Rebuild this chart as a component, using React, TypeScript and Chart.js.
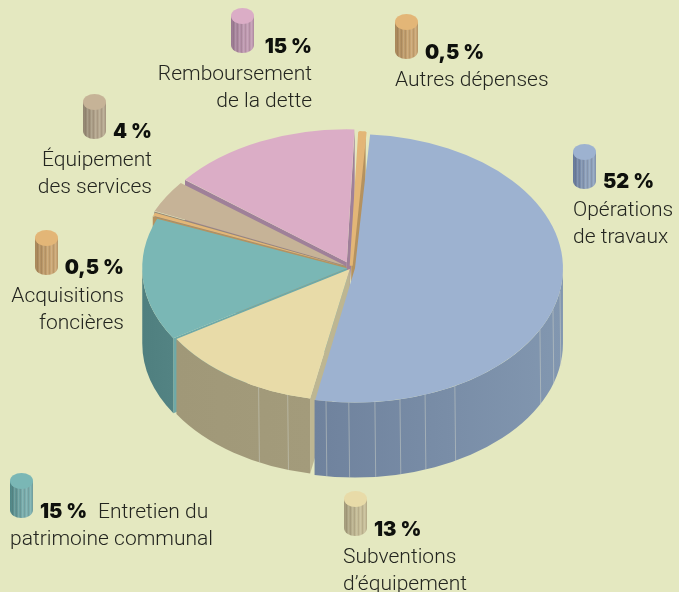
import React, { useEffect, useRef } from "react";
import { Chart, registerables } from "chart.js";

Chart.register(...registerables);

// ---- data -----
const categories = [
  "Opérations de travaux",
  "Subventions d’équipement",
  "Entretien du patrimoine communal",
  "Acquisitions foncières",
  "Équipement des services",
  "Remboursement de la dette",
  "Autres dépenses",
];
const shares = [52, 13, 15, 0.5, 4, 15, 0.5];
const shareLabels = ["52 %", "13 %", "15 %", "0,5 %", "4 %", "15 %", "0,5 %"];
const captionLines = [
  ["Opérations", "de travaux"],
  ["Subventions", "d’équipement"],
  ["Entretien du", "patrimoine communal"],
  ["Acquisitions", "foncières"],
  ["Équipement", "des services"],
  ["Remboursement", "de la dette"],
  ["Autres dépenses"],
];

// ---- styles -----
const BG = "#e4e8c0";
const topColors = ["#9db2d0", "#e8dba8", "#7ab7b5", "#e3b677", "#c6b397", "#dbadc6", "#e3b677"];
const cutColors = ["#7b90ab", "#bdb692", "#6ea9a8", "#b5925f", "#948a78", "#9f8099", "#b5925f"];
const wallLeft = ["#6f829d", "#a09878", "#4f7f7f", "#b5925f", "#948a78", "#9f8099", "#b5925f"];
const wallRight = ["#8297b0", "#a39b7b", "#538383", "#b5925f", "#948a78", "#9f8099", "#b5925f"];
const iconDark = ["#66799a", "#a39b7b", "#4f8585", "#a8875a", "#928672", "#9a7a92", "#a8875a"];
const iconLight = ["#8fa2bd", "#c6bd98", "#7aaeae", "#c9a573", "#b5a78f", "#c09ab2", "#c9a573"];
const offsets = [16, 8, 16, 20, 26, 40, 14];
const sliceBorders = [0, 0, 0, 0, 0, 0, 3];
const rotationDeg = 4;
const baseRadius = 204;
const squash = 0.645;
const depth = 75;
const seams: number[][] = [[9.7, 17.8, 27.2, 61.3, 70.3, 77.5, 84.5, 91.7, 98], [107.7, 116.5], [], [], [], [], []];

type Place = { icon: [number, number]; shareAt: [number, number]; align: CanvasTextAlign; lines: [number, number][] };
const places: Place[] = [
  { icon: [573, 144], shareAt: [603, 188], align: "left", lines: [[573, 216], [573, 243]] },
  { icon: [344, 491], shareAt: [374, 536], align: "left", lines: [[343, 563], [343, 590]] },
  { icon: [10, 473], shareAt: [40, 518], align: "left", lines: [[98, 518], [10, 545]] },
  { icon: [35, 230], shareAt: [124, 274], align: "right", lines: [[124, 302], [124, 329]] },
  { icon: [83, 94], shareAt: [152, 138], align: "right", lines: [[152, 166], [152, 193]] },
  { icon: [231, 8], shareAt: [312, 53], align: "right", lines: [[312, 80], [312, 107]] },
  { icon: [395, 14], shareAt: [425, 59], align: "left", lines: [[395, 86]] },
];

function geometry(arc: any, off: number) {
  const p = arc.getProps(["x", "y", "startAngle", "endAngle", "outerRadius", "circumference"], true);
  const d = off / 4;
  const mid = (p.startAngle + p.endAngle) / 2;
  const fix = 1 - Math.sin(Math.min(Math.PI, p.circumference));
  const R = p.outerRadius + d * fix;
  const cx = p.x + Math.cos(mid) * d;
  const cy = p.y + Math.sin(mid) * d * squash;
  return { cx, cy, R, s: p.startAngle, e: p.endAngle };
}

function drawCut(ctx: CanvasRenderingContext2D, g: any, a: number, color: string) {
  const ex = g.cx + g.R * Math.cos(a);
  const ey = g.cy + g.R * squash * Math.sin(a);
  ctx.beginPath();
  ctx.moveTo(g.cx, g.cy);
  ctx.lineTo(ex, ey);
  ctx.lineTo(ex, ey + depth);
  ctx.lineTo(g.cx, g.cy + depth);
  ctx.closePath();
  ctx.fillStyle = color;
  ctx.fill();
}

function drawRim(ctx: CanvasRenderingContext2D, g: any, i: number) {
  const a = Math.max(g.s, 0);
  const b = Math.min(g.e, Math.PI);
  if (b <= a) return;
  const ry = g.R * squash;
  const x1 = g.cx + g.R * Math.cos(b);
  const x2 = g.cx + g.R * Math.cos(a);
  const grad = ctx.createLinearGradient(x1, 0, x2, 0);
  grad.addColorStop(0, wallLeft[i]);
  grad.addColorStop(1, wallRight[i]);
  ctx.beginPath();
  ctx.ellipse(g.cx, g.cy, g.R, ry, 0, a, b, false);
  ctx.lineTo(x1, g.cy + ry * Math.sin(b) + depth);
  ctx.ellipse(g.cx, g.cy + depth, g.R, ry, 0, b, a, true);
  ctx.closePath();
  ctx.fillStyle = grad;
  ctx.fill();
  ctx.strokeStyle = "rgba(205,210,200,0.5)";
  ctx.lineWidth = 1;
  for (const deg of seams[i]) {
    const t = (deg * Math.PI) / 180;
    const x = g.cx + g.R * Math.cos(t);
    const y = g.cy + ry * Math.sin(t);
    ctx.beginPath();
    ctx.moveTo(x, y);
    ctx.lineTo(x + 0.8, y + depth);
    ctx.stroke();
  }
}

function drawIcon(ctx: CanvasRenderingContext2D, x: number, y: number, i: number) {
  const w = 23, h = 45, ry = 8;
  const rx = w / 2;
  ctx.save();
  ctx.beginPath();
  ctx.moveTo(x, y + ry);
  ctx.lineTo(x, y + h - ry);
  ctx.ellipse(x + rx, y + h - ry, rx, ry, 0, Math.PI, 0, true);
  ctx.lineTo(x + w, y + ry);
  ctx.closePath();
  const grad = ctx.createLinearGradient(x, 0, x + w, 0);
  grad.addColorStop(0, iconDark[i]);
  grad.addColorStop(0.6, iconLight[i]);
  grad.addColorStop(1, iconLight[i]);
  ctx.fillStyle = grad;
  ctx.fill();
  ctx.clip();
  ctx.lineWidth = 1;
  for (let k = 2; k < w; k += 2) {
    ctx.strokeStyle = k % 4 === 0 ? "rgba(255,255,240,0.13)" : "rgba(70,60,50,0.12)";
    ctx.beginPath();
    ctx.moveTo(x + k + 0.5, y);
    ctx.lineTo(x + k + 0.5, y + h);
    ctx.stroke();
  }
  ctx.restore();
  ctx.beginPath();
  ctx.ellipse(x + rx, y + ry, rx, ry, 0, 0, Math.PI * 2);
  ctx.fillStyle = topColors[i];
  ctx.fill();
}

const pie3d = {
  id: "pie3d",
  beforeDatasetsDraw(chart: any) {
    const { ctx } = chart;
    const arcs = chart.getDatasetMeta(0).data;
    const geos = arcs.map((a: any, i: number) => geometry(a, offsets[i]));
    ctx.save();
    // cut faces from the back slices to the front ones, rims afterwards
    for (let i = geos.length - 1; i >= 0; i--) {
      const g = geos[i];
      if (Math.cos(g.s) < 0) drawCut(ctx, g, g.s, cutColors[i]);
      if (Math.cos(g.e) > 0) drawCut(ctx, g, g.e, cutColors[i]);
    }
    geos.forEach((g: any, i: number) => drawRim(ctx, g, i));
    ctx.restore();
    // squash the library's own arcs into the top face
    const cy = arcs[0].y;
    ctx.save();
    ctx.translate(0, cy);
    ctx.scale(1, squash);
    ctx.translate(0, -cy);
  },
  afterDatasetsDraw(chart: any) {
    const { ctx } = chart;
    ctx.restore();
    ctx.save();
    ctx.textBaseline = "alphabetic";
    places.forEach((pl, i) => {
      drawIcon(ctx, pl.icon[0], pl.icon[1], i);
      ctx.fillStyle = "#0e100c";
      ctx.font = "900 20px Inter";
      ctx.textAlign = pl.align;
      ctx.fillText(shareLabels[i], pl.shareAt[0], pl.shareAt[1]);
      ctx.fillStyle = "#23251f";
      ctx.font = "300 21px Roboto";
      captionLines[i].forEach((line, j) => {
        ctx.fillText(line, pl.lines[j][0], pl.lines[j][1]);
      });
    });
    ctx.restore();
  },
};

export default function App() {
  const ref = useRef<HTMLCanvasElement>(null);
  useEffect(() => {
    const chart = new Chart(ref.current as HTMLCanvasElement, {
      type: "pie",
      data: {
        labels: categories,
        datasets: [
          {
            data: shares,
            backgroundColor: topColors,
            borderColor: topColors,
            borderWidth: sliceBorders,
            offset: offsets,
            hoverOffset: 0,
          } as any,
        ],
      },
      options: {
        responsive: false,
        animation: false,
        rotation: rotationDeg,
        radius: baseRadius,
        layout: { padding: { left: 23, bottom: 56 } },
        plugins: { legend: { display: false }, tooltip: { enabled: false } },
        events: [],
      } as any,
      plugins: [pie3d],
    });
    return () => chart.destroy();
  }, []);
  return (
    <div style={{ position: "absolute", left: 0, top: 0, width: 679, height: 592, background: BG, overflow: "hidden" }}>
      <canvas ref={ref} width={679} height={592} style={{ display: "block" }} />
    </div>
  );
}
